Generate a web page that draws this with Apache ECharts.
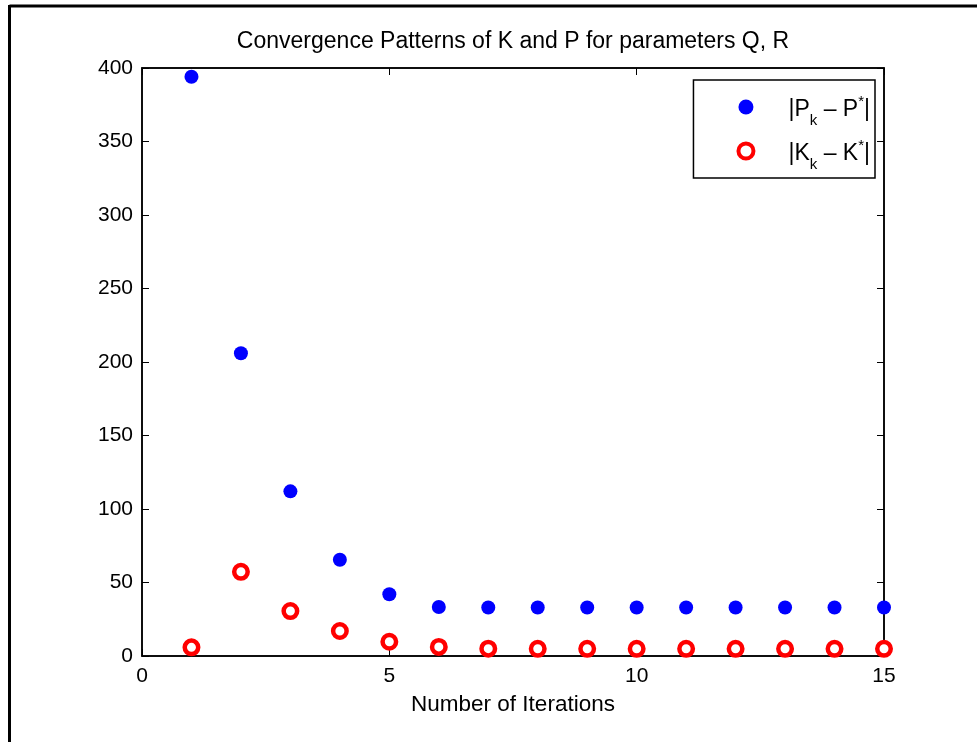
<!DOCTYPE html>
<html>
<head>
<meta charset="utf-8">
<title>Convergence Patterns of K and P</title>
<script src="https://cdn.jsdelivr.net/npm/echarts@6/dist/echarts.min.js"></script>
<style>
  html, body { margin: 0; padding: 0; background: #fff; }
  #chart { width: 977px; height: 742px; }
</style>
</head>
<body>
<div id="chart"></div>
<script>
// Iteration index
const iterations = [1, 2, 3, 4, 5, 6, 7, 8, 9, 10, 11, 12, 13, 14, 15];
// |P_k - P*| per iteration
const pError = [394, 206, 112, 65.5, 42, 33.3, 33, 33, 33, 33, 33, 33, 33, 33, 33];
// |K_k - K*| per iteration
const kError = [5.9, 57.3, 30.6, 17, 9.7, 6.2, 5, 4.9, 4.9, 4.9, 4.9, 4.9, 4.9, 4.9, 4.9];

const xTicks = [0, 5, 10, 15];
const yTicks = [0, 50, 100, 150, 200, 250, 300, 350, 400];

const FONT = '"Liberation Sans", Arial, Helvetica, sans-serif';

const chart = echarts.init(document.getElementById('chart'), null, { renderer: 'canvas' });

const tickStyle = { show: true, inside: true, length: 7, lineStyle: { color: '#000', width: 1 } };
const lineStyle = { show: true, onZero: false, lineStyle: { color: '#000', width: 1.5 } };

const option = {
  backgroundColor: '#fff',
  animation: false,
  textStyle: { fontFamily: FONT },
  title: {
    text: 'Convergence Patterns of K and P for parameters Q, R',
    left: 513,
    textAlign: 'center',
    top: 30,
    padding: 0,
    textStyle: { fontFamily: FONT, fontSize: 23, fontWeight: 'normal', color: '#000' }
  },
  grid: { left: 142, right: 93, top: 68, bottom: 86, containLabel: false,
          show: true, borderColor: '#000', borderWidth: 1.5 },
  legend: {
    right: 102,
    top: 80,
    orient: 'vertical',
    backgroundColor: '#fff',
    borderColor: '#000',
    borderWidth: 1.5,
    borderRadius: 0,
    padding: [14, 5, 6, 43],
    itemGap: 10,
    itemWidth: 15,
    itemHeight: 15,
    formatter: function (name) {
      return name === 'P'
        ? '{m||P}{s|k}{m| \u2013 P}{u|*}{m||}'
        : '{m||K}{s|k}{m| \u2013 K}{u|*}{m||}';
    },
    textStyle: {
      fontFamily: FONT,
      color: '#000',
      padding: [0, 0, 0, 30],
      rich: {
        m: { fontFamily: FONT, fontSize: 23, color: '#000', verticalAlign: 'top', padding: [4, 0, 0, 0], lineHeight: 26 },
        s: { fontFamily: FONT, fontSize: 15, color: '#000', verticalAlign: 'top', padding: [19, 0, 0, 0], lineHeight: 17 },
        u: { fontFamily: FONT, fontSize: 15, color: '#000', verticalAlign: 'top', padding: [0, 0, 0, 0], lineHeight: 15 }
      }
    },
    data: [
      { name: 'P' },
      { name: 'K', itemStyle: { color: '#fff', borderColor: '#ff0000', borderWidth: 4 } }
    ]
  },
  xAxis: [
    {
      type: 'value', min: xTicks[0], max: xTicks[xTicks.length - 1], interval: 5,
      name: 'Number of Iterations', nameLocation: 'middle', nameGap: 37,
      nameTextStyle: { fontFamily: FONT, fontSize: 22.5, color: '#000' },
      axisLine: lineStyle, axisTick: tickStyle, splitLine: { show: false },
      axisLabel: { fontFamily: FONT, fontSize: 21, color: '#000', margin: 10 }
    },
    {
      type: 'value', position: 'top', min: xTicks[0], max: xTicks[xTicks.length - 1], interval: 5,
      axisLine: lineStyle, axisTick: tickStyle, splitLine: { show: false },
      axisLabel: { show: false }
    }
  ],
  yAxis: [
    {
      type: 'value', min: yTicks[0], max: yTicks[yTicks.length - 1], interval: 50,
      axisLine: lineStyle, axisTick: tickStyle, splitLine: { show: false },
      axisLabel: { fontFamily: FONT, fontSize: 21, color: '#000', margin: 9 }
    },
    {
      type: 'value', position: 'right', min: yTicks[0], max: yTicks[yTicks.length - 1], interval: 50,
      axisLine: lineStyle, axisTick: tickStyle, splitLine: { show: false },
      axisLabel: { show: false }
    }
  ],
  series: [
    {
      name: 'P', type: 'scatter', symbol: 'circle', symbolSize: 14,
      itemStyle: { color: '#0000ff', opacity: 1 },
      data: iterations.map((x, i) => [x, pError[i]]),
      z: 3
    },
    {
      name: 'K', type: 'scatter', symbol: 'circle', symbolSize: 13.5,
      itemStyle: { color: '#fff', borderColor: '#ff0000', borderWidth: 4.5, opacity: 1 },
      data: iterations.map((x, i) => [x, kError[i]]),
      z: 3
    }
  ],
  graphic: [
    { type: 'line', shape: { x1: 9.5, y1: 6, x2: 977, y2: 6 }, style: { stroke: '#000', lineWidth: 3 } },
    { type: 'line', shape: { x1: 9.5, y1: 5, x2: 9.5, y2: 742 }, style: { stroke: '#000', lineWidth: 3 } }
  ]
};

chart.setOption(option);
</script>
</body>
</html>
